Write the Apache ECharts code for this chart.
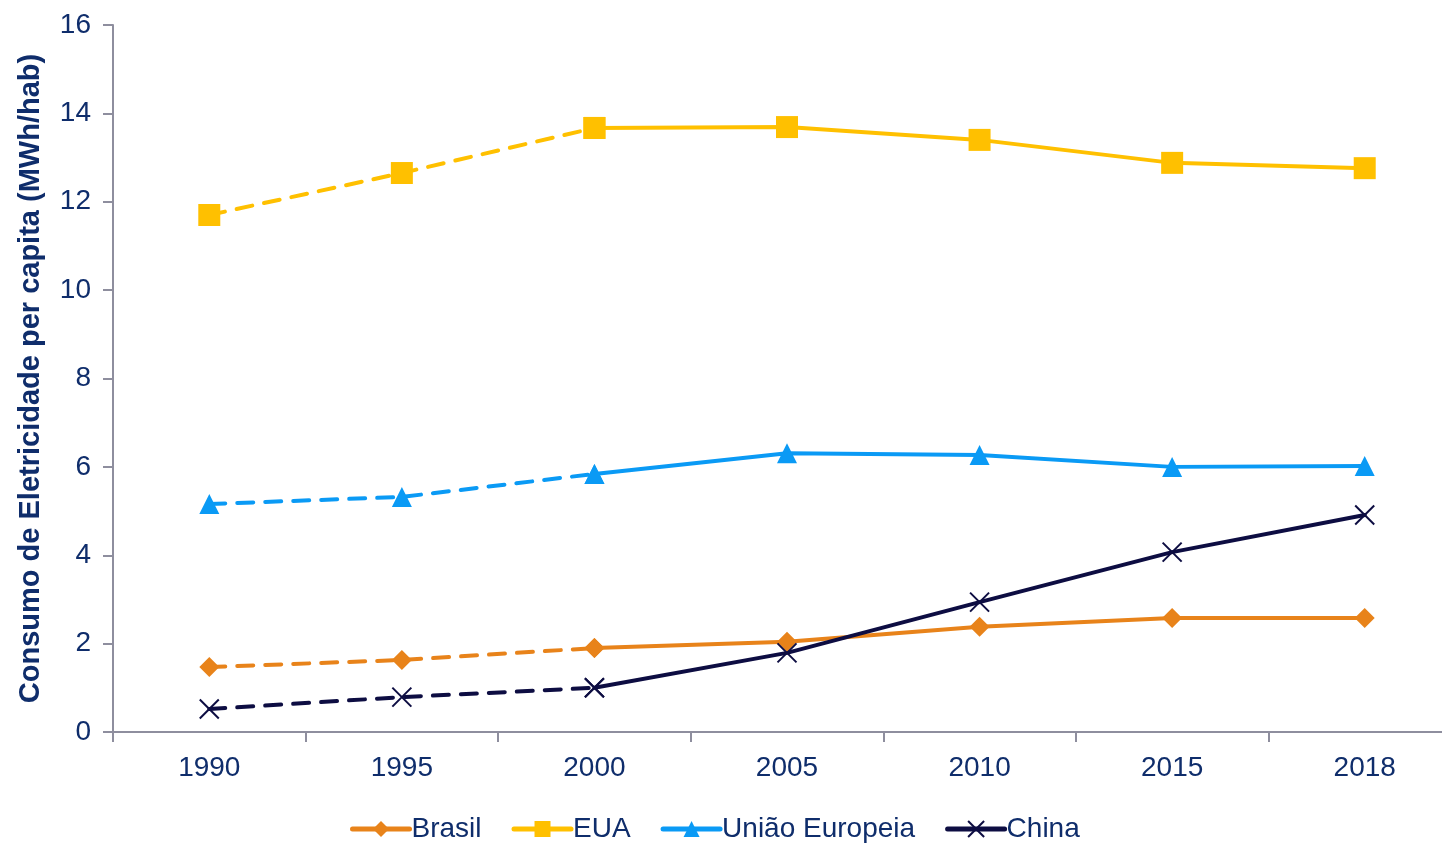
<!DOCTYPE html>
<html>
<head>
<meta charset="utf-8">
<script src="https://cdn.jsdelivr.net/npm/echarts@6/dist/echarts.min.js"></script>
<style>
  html, body { margin: 0; padding: 0; background: #fff; overflow: hidden; }
  #main { width: 1461px; height: 844px; }
</style>
</head>
<body>
<div id="main"></div>
<script>
// dados (MWh/hab)
var anos = ['1990', '1995', '2000', '2005', '2010', '2015', '2018']
var brasil = [1.47, 1.63, 1.90, 2.04, 2.38, 2.58, 2.58]
var eua = [11.70, 12.65, 13.67, 13.69, 13.40, 12.88, 12.76]
var uniaoEuropeia = [5.16, 5.32, 5.84, 6.31, 6.27, 6.00, 6.02]
var china = [0.52, 0.79, 1.00, 1.79, 2.94, 4.07, 4.91]

var corTexto = '#0F2D6B'
var paises = [
  { name: 'Brasil', data: brasil, color: '#E8831A', symbol: 'diamond', size: 20 },
  { name: 'EUA', data: eua, color: '#FFC000', symbol: 'rect', size: 22 },
  { name: 'União Europeia', data: uniaoEuropeia, color: '#0A9AF5', symbol: 'triangle', size: 20 },
  { name: 'China', data: china, color: '#0D0D42', symbol: 'path://M0,0L10,10M10,0L0,10', size: 19 }
]

// trecho tracejado ate 2000, continuo a partir de 2000
function parte(arr, de, ate) {
  return arr.map(function (v, i) { return (i >= de && i <= ate) ? v : null })
}

function serie(p, de, ate, tipo) {
  var isX = p.symbol.indexOf('path://') === 0
  return {
    name: p.name,
    type: 'line',
    data: parte(p.data, de, ate),
    symbol: p.symbol,
    symbolSize: p.size,
    showAllSymbol: true,
    itemStyle: { color: isX ? 'none' : p.color, borderColor: p.color, borderWidth: isX ? 2 : 0, opacity: 1 },
    lineStyle: { color: p.color, width: 4, type: tipo, cap: 'round' }
  }
}

var series = []
paises.forEach(function (p) { series.push(serie(p, 2, 6, 'solid')) })
paises.forEach(function (p) { series.push(serie(p, 0, 2, [16, 12])) })

var myChart = echarts.init(document.getElementById('main'))
var option = {
  animation: false,
  textStyle: { fontFamily: 'Liberation Sans, Arial, sans-serif' },
  grid: { left: 113, right: 0, top: 25, bottom: 112 },
  legend: {
    data: paises.map(function (p) { return p.name }),
    left: 345,
    top: 810,
    itemWidth: 57,
    itemHeight: 20,
    itemGap: 30,
    lineStyle: { width: 5 },
    textStyle: { color: corTexto, fontSize: 28, padding: [0, 0, 0, -3] }
  },
  xAxis: {
    type: 'category',
    data: anos,
    boundaryGap: true,
    axisLine: { lineStyle: { color: '#8E8E9E', width: 2 } },
    axisTick: { show: true, length: 10, lineStyle: { color: '#8E8E9E', width: 2 } },
    axisLabel: { color: corTexto, fontSize: 28, margin: 22 }
  },
  yAxis: {
    type: 'value',
    min: 0,
    max: 16,
    interval: 2,
    name: 'Consumo de Eletricidade per capita (MWh/hab)',
    nameLocation: 'middle',
    nameGap: 68,
    nameTextStyle: { color: corTexto, fontSize: 29, fontWeight: 'bold' },
    axisLine: { show: true, lineStyle: { color: '#8E8E9E', width: 2 } },
    axisTick: { show: true, length: 10, lineStyle: { color: '#8E8E9E', width: 2 } },
    splitLine: { show: false },
    axisLabel: { color: corTexto, fontSize: 28, margin: 22 }
  },
  series: series
}
myChart.setOption(option)
</script>
</body>
</html>
